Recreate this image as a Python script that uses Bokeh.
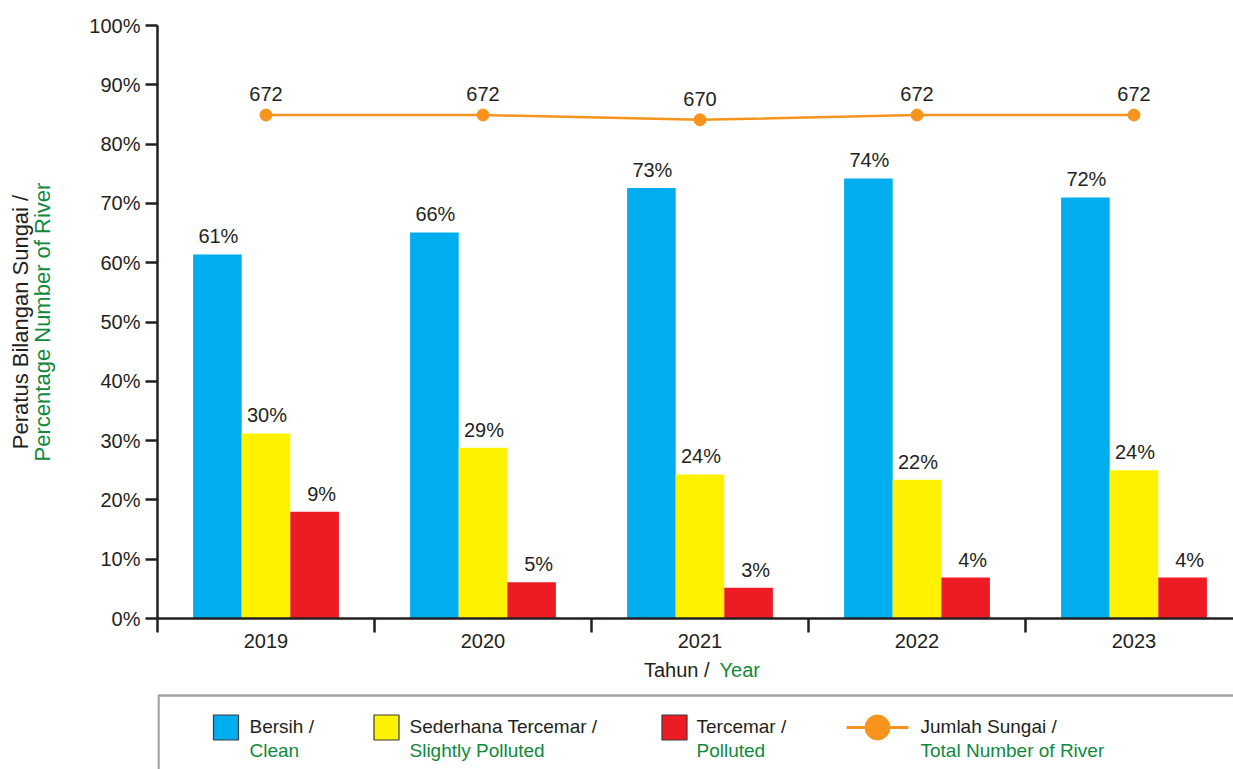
from bokeh.plotting import figure
from bokeh.models import (Range1d, FixedTicker, PrintfTickFormatter, LinearAxis,
                          LabelSet, ColumnDataSource)
from bokeh.layouts import column
from bokeh.embed import file_html
from bokeh.resources import INLINE
from bokeh.core.properties import value

# ---------------- data ----------------
years = ["2019", "2020", "2021", "2022", "2023"]
clean = [61.4, 65.1, 72.6, 74.2, 71.0]          # bar heights (%)
slightly = [31.2, 28.8, 24.3, 23.4, 25.0]
polluted = [18.0, 6.1, 5.2, 6.9, 6.9]
clean_labels = ["61%", "66%", "73%", "74%", "72%"]
slightly_labels = ["30%", "29%", "24%", "22%", "24%"]
polluted_labels = ["9%", "5%", "3%", "4%", "4%"]
total_rivers = [672, 672, 670, 672, 672]
y_ticks = [0, 10, 20, 30, 40, 50, 60, 70, 80, 90, 100]

x_title = ["Tahun /", "Year"]
y_title = ["Peratus Bilangan Sungai /", "Percentage Number of River"]
legend_ms = ["Bersih /", "Sederhana Tercemar /", "Tercemar /", "Jumlah Sungai /"]
legend_en = ["Clean", "Slightly Polluted", "Polluted", "Total Number of River"]

# ---------------- style ----------------
FONT = "Liberation Sans"
DARK = "#231f20"
GREEN = "#0f8a3c"
BLUE = "#00aeef"
YELLOW = "#fff200"
RED = "#ed1c24"
ORANGE = "#f7941d"

W = 1233
LEFT = 157
H_MAIN = 655
H_LEG = 114

idx = list(range(len(years)))
off = 0.224
bw = 0.224

p = figure(width=W, height=H_MAIN, output_backend="svg", toolbar_location=None,
           x_range=Range1d(-0.5, -0.5 + (W - LEFT) / 217.0), y_range=Range1d(0, 100),
           min_border_left=LEFT, min_border_right=0, min_border_top=25,
           min_border_bottom=37)
p.grid.visible = False
p.outline_line_color = None
p.background_fill_color = "white"
p.border_fill_color = "white"

p.extra_y_ranges = {"count": Range1d(459.75, 709.75)}

src = ColumnDataSource(dict(
    xc=[i - off for i in idx], xs=idx, xp=[i + off for i in idx],
    clean=clean, slightly=slightly, polluted=polluted,
    cl=clean_labels, sl=slightly_labels, pl=polluted_labels,
    total=total_rivers, tl=[str(t) for t in total_rivers]))

p.vbar(x="xc", top="clean", width=bw, source=src, fill_color=BLUE, line_color=None)
p.vbar(x="xs", top="slightly", width=bw, source=src, fill_color=YELLOW, line_color=None)
p.vbar(x="xp", top="polluted", width=bw, source=src, fill_color=RED, line_color=None)

p.line(x="xs", y="total", source=src, y_range_name="count", line_color=ORANGE, line_width=2.5)
p.scatter(x="xs", y="total", source=src, y_range_name="count", size=12,
          fill_color=ORANGE, line_color=ORANGE)

def labels(xcol, ycol, tcol, xo=0, yo=11, rng="default"):
    ls = LabelSet(x=xcol, y=ycol, text=tcol, source=src, y_range_name=rng,
                  x_offset=xo, y_offset=yo, text_align="center",
                  text_baseline="alphabetic", text_font=value(FONT),
                  text_font_size="20px", text_color=DARK)
    p.add_layout(ls)

labels("xc", "clean", "cl", xo=1)
labels("xs", "slightly", "sl", xo=1)
labels("xp", "polluted", "pl", xo=7)
labels("xs", "total", "tl", yo=14, rng="count")

# x axis
xa = p.xaxis[0]
xa.ticker = FixedTicker(ticks=idx, minor_ticks=[i + 0.5 for i in range(-1, 5)])
xa.major_label_overrides = {i: y for i, y in zip(idx, years)}
xa.major_tick_line_color = None
xa.major_tick_out = 0
xa.major_tick_in = 0
xa.minor_tick_in = 0
xa.minor_tick_out = 14
xa.minor_tick_line_color = DARK
xa.minor_tick_line_width = 2.5
xa.axis_line_color = DARK
xa.axis_line_width = 2.5
xa.major_label_standoff = 1
xa.major_label_text_font = FONT
xa.major_label_text_font_size = "20px"
xa.major_label_text_color = DARK

# y axis
ya = p.yaxis[0]
ya.ticker = FixedTicker(ticks=y_ticks, minor_ticks=[])
ya.formatter = PrintfTickFormatter(format="%d%%")
ya.major_tick_out = 12
ya.major_tick_in = 0
ya.major_tick_line_color = DARK
ya.major_tick_line_width = 2.5
ya.axis_line_color = DARK
ya.axis_line_width = 2.5
ya.major_label_standoff = 5
ya.major_label_text_font = FONT
ya.major_label_text_font_size = "20px"
ya.major_label_text_color = DARK
ya.axis_label = y_title[1]
ya.axis_label_text_color = GREEN
ya.axis_label_text_font = FONT
ya.axis_label_text_font_size = "22px"
ya.axis_label_text_font_style = "normal"
ya.axis_label_standoff = 31

ya2 = LinearAxis(ticker=FixedTicker(ticks=[]), axis_line_color=None,
                 major_tick_line_color=None, minor_tick_line_color=None,
                 major_tick_out=0, major_tick_in=0, minor_tick_out=0, minor_tick_in=0,
                 major_label_standoff=0,
                 axis_label=y_title[0], axis_label_text_color=DARK,
                 axis_label_text_font=FONT, axis_label_text_font_size="22px",
                 axis_label_text_font_style="normal", axis_label_standoff=-5)
p.add_layout(ya2, "left")

# ---------------- lower panel: x title + legend ----------------
# coordinates here are canvas pixels (x from the left edge, y from the bottom)
q = figure(width=W, height=H_LEG, output_backend="svg", toolbar_location=None,
           x_range=Range1d(LEFT, W), y_range=Range1d(0, H_LEG),
           min_border_left=LEFT, min_border_right=0, min_border_top=0,
           min_border_bottom=0)
q.axis.visible = False
q.grid.visible = False
q.outline_line_color = None
q.background_fill_color = "white"
q.border_fill_color = "white"

q.text(x=[709], y=[100], text=[x_title[0]], text_font=value(FONT), text_font_size="20px",
       text_color=DARK, text_baseline="middle", text_align="right")
q.text(x=[719], y=[100], text=[x_title[1]], text_font=value(FONT), text_font_size="20px",
       text_color=GREEN, text_baseline="middle", text_align="left")

q.quad(left=[LEFT + 1], right=[W + 50], top=[74], bottom=[-20], fill_color=None,
       line_color="#a3a3a3", line_width=2.5)

sq_x = [225.5, 386, 674]
q.rect(x=sq_x, y=[42] * 3, width=25, height=25, width_units="screen",
       height_units="screen", fill_color=[BLUE, YELLOW, RED], line_color="#3a3a3a",
       line_width=1.2)
q.line(x=[846, 908], y=[42, 42], line_color=ORANGE, line_width=3)
q.scatter(x=[877], y=[42], size=25, fill_color=ORANGE, line_color=ORANGE)

tx = [249, 409, 696, 920]
q.text(x=tx, y=[43.5] * 4, text=legend_ms, text_font=value(FONT), text_font_size="19px",
       text_color=DARK, text_baseline="middle", text_align="left")
q.text(x=tx, y=[19.5] * 4, text=legend_en, text_font=value(FONT), text_font_size="19px",
       text_color=GREEN, text_baseline="middle", text_align="left")

layout = column(p, q, spacing=0)
open("out.html", "w").write(file_html(layout, INLINE))
